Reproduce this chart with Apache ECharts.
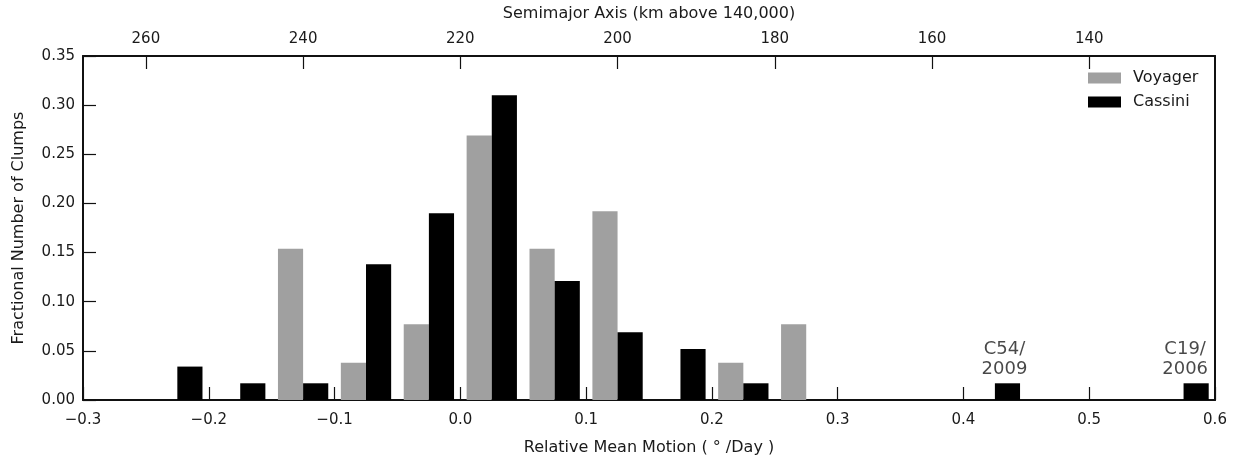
<!DOCTYPE html>
<html>
<head>
<meta charset="utf-8">
<script src="https://cdn.jsdelivr.net/npm/echarts@6/dist/echarts.min.js"></script>
<style>
html,body{margin:0;padding:0;background:#fff;}
#chart{width:1239px;height:457px;}
</style>
</head>
<body>
<div id="chart"></div>
<script>
// ---- data ----
const voyagerX = [-0.135, -0.085, -0.035, 0.015, 0.065, 0.115, 0.215, 0.265];
const voyagerY = [0.154, 0.038, 0.077, 0.269, 0.154, 0.192, 0.038, 0.077];
const cassiniX = [-0.215, -0.165, -0.115, -0.065, -0.015, 0.035, 0.085, 0.135, 0.185, 0.235, 0.435, 0.585];
const cassiniY = [0.034, 0.017, 0.017, 0.138, 0.190, 0.310, 0.121, 0.069, 0.052, 0.017, 0.017, 0.017];
const topTicks = [260, 240, 220, 200, 180, 160, 140];
const annotX = [0.435, 0.585];
const annotY = [0.017, 0.017];
const annotText = ['C54/\n2009', 'C19/\n2006'];

// ---- chart ----
const FONT = 'DejaVu Sans';
const TXT = '#1a1a1a';
const LINE = '#111';
const BAR_W = 0.02;
const chart = echarts.init(document.getElementById('chart'), null, {renderer: 'canvas'});

function barRender(params, api) {
  const x = api.value(0), y = api.value(1);
  const p0 = api.coord([x - BAR_W / 2, y]);
  const p1 = api.coord([x + BAR_W / 2, 0]);
  return {
    type: 'rect',
    shape: {x: p0[0], y: p0[1], width: p1[0] - p0[0], height: p1[1] - p0[1]},
    style: api.style()
  };
}
const zip = (a, b) => a.map((v, i) => [v, b[i]]);
const fmtX = v => (v < 0 ? '\u2212' + Math.abs(v).toFixed(1) : v.toFixed(1));
const annotOffsets = [[-3, 0], [-11, 0]];

const tickStyle = {show: true, inside: true, length: 13, lineStyle: {color: LINE, width: 1.2}};
const lineStyle = {show: true, onZero: false, lineStyle: {color: LINE, width: 2}};
const labelStyle = {fontFamily: FONT, fontSize: 15, color: TXT};
const nameStyle = {fontFamily: FONT, fontSize: 16, color: TXT};

chart.setOption({
  animation: false,
  backgroundColor: '#fff',
  textStyle: {fontFamily: FONT},
  grid: {left: 83, right: 24, top: 56, bottom: 57, containLabel: false, outerBoundsMode: 'none'},
  legend: {
    data: ['Voyager', 'Cassini'],
    orient: 'vertical', left: 1088, top: 70, padding: 0,
    itemWidth: 33, itemHeight: 11, itemGap: 8, icon: 'rect',
    textStyle: {fontFamily: FONT, fontSize: 16, lineHeight: 16, color: TXT, padding: [0, 0, 0, 7]}
  },
  xAxis: [{
    type: 'value', min: -0.3, max: 0.6, interval: 0.1, position: 'bottom',
    name: 'Relative Mean Motion ( \u00b0 /Day )', nameLocation: 'middle', nameGap: 40,
    nameTextStyle: nameStyle,
    axisLine: lineStyle,
    axisTick: tickStyle,
    axisLabel: Object.assign({margin: 13, formatter: fmtX, showMinLabel: true, showMaxLabel: true}, labelStyle),
    splitLine: {show: false}
  }, {
    type: 'value', min: 124, max: 268, inverse: true, position: 'top',
    name: 'Semimajor Axis (km above 140,000)', nameLocation: 'middle', nameGap: 34,
    nameTextStyle: nameStyle,
    axisLine: lineStyle,
    axisTick: Object.assign({customValues: topTicks}, tickStyle),
    axisLabel: Object.assign({margin: 9, customValues: topTicks}, labelStyle),
    splitLine: {show: false}
  }],
  yAxis: [{
    type: 'value', min: 0, max: 0.35, interval: 0.05, position: 'left',
    name: 'Fractional Number of Clumps', nameLocation: 'middle', nameGap: 56,
    nameTextStyle: nameStyle,
    axisLine: lineStyle,
    axisTick: tickStyle,
    axisLabel: Object.assign({margin: 8, formatter: v => v.toFixed(2)}, labelStyle),
    splitLine: {show: false}
  }, {
    type: 'value', min: 0, max: 0.35, position: 'right',
    axisLine: lineStyle,
    axisTick: {show: false}, axisLabel: {show: false}, splitLine: {show: false}
  }],
  series: [{
    name: 'Voyager', type: 'custom', renderItem: barRender,
    xAxisIndex: 0, yAxisIndex: 0, encode: {x: 0, y: 1},
    itemStyle: {color: '#a0a0a0'},
    data: zip(voyagerX, voyagerY)
  }, {
    name: 'Cassini', type: 'custom', renderItem: barRender,
    xAxisIndex: 0, yAxisIndex: 0, encode: {x: 0, y: 1},
    itemStyle: {color: '#000'},
    data: zip(cassiniX, cassiniY)
  }, {
    name: 'annot', type: 'scatter', xAxisIndex: 0, yAxisIndex: 0,
    symbolSize: 0, silent: true,
    data: annotX.map((x, i) => ({
      value: [x, annotY[i]],
      label: {show: true, position: 'top', distance: 4, offset: annotOffsets[i],
        formatter: annotText[i], fontFamily: FONT, fontSize: 18, lineHeight: 20, color: TXT, align: 'center'}
    }))
  }]
});
</script>
</body>
</html>
